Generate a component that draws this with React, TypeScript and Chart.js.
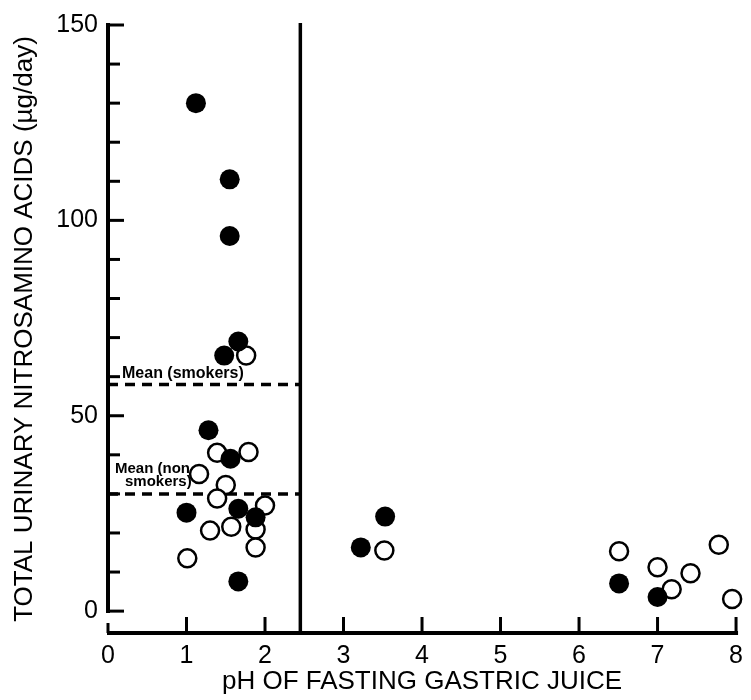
import React, { useEffect, useRef } from 'react';
import { Chart, registerables } from 'chart.js';

Chart.register(...registerables);

// ---- data ----
const X_TICKS = [0, 1, 2, 3, 4, 5, 6, 7, 8];
const Y_MAJOR = [0, 50, 100, 150];
const Y_MINOR = [10, 20, 30, 40, 60, 70, 80, 90, 110, 120, 130, 140];

const smokersX = [1.12, 1.55, 1.55, 1.66, 1.48, 1.28, 1.56, 1.0, 1.66, 1.88, 1.66, 3.53, 3.22, 6.51, 7.0];
const smokersY = [130, 110.5, 96, 69, 65.4, 46.3, 39, 25.2, 26.2, 24, 7.6, 24.2, 16.3, 7.1, 3.6];

const nonSmokersX = [1.76, 1.39, 1.79, 1.16, 1.5, 1.39, 2.0, 1.88, 1.57, 1.3, 1.88, 1.01, 3.52, 6.51, 7.0, 7.42, 7.18, 7.78, 7.95];
const nonSmokersY = [65.4, 40.5, 40.7, 35.1, 32.3, 28.8, 27, 20.9, 21.6, 20.6, 16.3, 13.5, 15.5, 15.3, 11.2, 9.7, 5.6, 17, 3.1];

const MEAN_SMOKERS = 58;
const MEAN_NON_SMOKERS = 30;
const PH_CUTOFF = 2.45;
const X_MIN = 0;
const X_MAX = 8;
const Y_MIN = -5.6;
const Y_MAX = 150;

const X_TITLE = 'pH OF FASTING GASTRIC JUICE';
const Y_TITLE = 'TOTAL URINARY NITROSAMINO ACIDS (\u00b5g/day)';
const LABEL_SMOKERS = ['Mean (smokers)'];
const LABEL_NON_SMOKERS = ['Mean (non', 'smokers)'];

const FONT = '"Liberation Sans", Arial, Helvetica, sans-serif';

const axesPlugin = {
  id: 'paperAxes',
  afterDatasetsDraw(chart: any) {
    const { ctx, chartArea } = chart;
    const xs = chart.scales.x;
    const ys = chart.scales.y;
    ctx.save();
    ctx.strokeStyle = '#000';
    ctx.lineCap = 'butt';
    // y axis line
    const x0 = xs.getPixelForValue(X_MIN);
    ctx.lineWidth = 4;
    ctx.beginPath();
    ctx.moveTo(x0, ys.getPixelForValue(0) + 2);
    ctx.lineTo(x0, ys.getPixelForValue(Y_MAX) - 2);
    ctx.stroke();
    // y ticks
    ctx.lineWidth = 3;
    Y_MAJOR.forEach((v) => {
      const y = ys.getPixelForValue(v);
      ctx.beginPath();
      ctx.moveTo(x0, y);
      ctx.lineTo(x0 + 16, y);
      ctx.stroke();
    });
    Y_MINOR.forEach((v) => {
      const y = ys.getPixelForValue(v);
      ctx.beginPath();
      ctx.moveTo(x0, y);
      ctx.lineTo(x0 + 12, y);
      ctx.stroke();
    });
    // x axis line
    const yb = chartArea.bottom;
    ctx.lineWidth = 4;
    ctx.beginPath();
    ctx.moveTo(x0 - 1, yb);
    ctx.lineTo(xs.getPixelForValue(X_MAX) + 2, yb);
    ctx.stroke();
    ctx.lineWidth = 3;
    X_TICKS.forEach((v) => {
      const x = xs.getPixelForValue(v);
      ctx.beginPath();
      ctx.moveTo(x, yb);
      ctx.lineTo(x, yb - (v === X_MIN ? 10 : 16));
      ctx.stroke();
    });
    // mean labels
    ctx.fillStyle = '#000';
    ctx.font = 'bold 16px ' + FONT;
    ctx.textAlign = 'left';
    ctx.textBaseline = 'alphabetic';
    const ySm = ys.getPixelForValue(MEAN_SMOKERS);
    ctx.fillText(LABEL_SMOKERS[0], x0 + 14, ySm - 6);
    ctx.font = 'bold 15px ' + FONT;
    const yNs = ys.getPixelForValue(MEAN_NON_SMOKERS);
    ctx.fillText(LABEL_NON_SMOKERS[0], x0 + 7, yNs - 21);
    ctx.fillText(LABEL_NON_SMOKERS[1], x0 + 17, yNs - 8);
    ctx.restore();
  },
};

export default function App() {
  const ref = useRef<HTMLCanvasElement | null>(null);

  useEffect(() => {
    const canvas = ref.current;
    if (!canvas) return;
    const chart = new Chart(canvas, {
      type: 'scatter',
      data: {
        datasets: [
          {
            label: 'Smokers',
            data: smokersX.map((x, i) => ({ x, y: smokersY[i] })),
            backgroundColor: '#000',
            borderColor: '#000',
            borderWidth: 0,
            pointRadius: 10,
            clip: false,
          } as any,
          {
            label: 'Non-smokers',
            data: nonSmokersX.map((x, i) => ({ x, y: nonSmokersY[i] })),
            backgroundColor: '#fff',
            borderColor: '#000',
            borderWidth: 2.5,
            pointRadius: 9,
            clip: false,
          } as any,
          {
            type: 'line',
            label: 'Mean (smokers)',
            data: [
              { x: X_MIN, y: MEAN_SMOKERS },
              { x: PH_CUTOFF, y: MEAN_SMOKERS },
            ],
            borderColor: '#000',
            borderWidth: 3.5,
            borderDash: [10, 7],
            pointRadius: 0,
            showLine: true,
          } as any,
          {
            type: 'line',
            label: 'Mean (non smokers)',
            data: [
              { x: X_MIN, y: MEAN_NON_SMOKERS },
              { x: PH_CUTOFF, y: MEAN_NON_SMOKERS },
            ],
            borderColor: '#000',
            borderWidth: 3.5,
            borderDash: [10, 7],
            pointRadius: 0,
            showLine: true,
          } as any,
          {
            type: 'line',
            label: 'pH cut-off',
            data: [
              { x: PH_CUTOFF, y: Y_MIN },
              { x: PH_CUTOFF, y: Y_MAX + 0.5 },
            ],
            borderColor: '#000',
            borderWidth: 3.5,
            pointRadius: 0,
            showLine: true,
            clip: false,
          } as any,
        ],
      },
      options: {
        responsive: false,
        animation: false,
        devicePixelRatio: 1,
        layout: { padding: { top: 22, right: 8, left: 0, bottom: 0 } },
        plugins: {
          legend: { display: false },
          tooltip: { enabled: false },
        },
        scales: {
          x: {
            type: 'linear',
            min: X_MIN,
            max: X_MAX,
            afterBuildTicks: (scale: any) => {
              scale.ticks = X_TICKS.map((v) => ({ value: v }));
            },
            afterFit: (scale: any) => {
              scale.height = 67;
            },
            grid: { display: false, drawTicks: false },
            border: { display: false },
            ticks: {
              color: '#000',
              font: { family: FONT, size: 25 },
              padding: 8,
              maxRotation: 0,
            },
            title: {
              display: true,
              text: X_TITLE,
              color: '#000',
              font: { family: FONT, size: 26 },
              padding: { top: 0, bottom: 3 },
            },
          },
          y: {
            type: 'linear',
            min: Y_MIN,
            max: Y_MAX,
            afterBuildTicks: (scale: any) => {
              scale.ticks = Y_MAJOR.map((v) => ({ value: v }));
            },
            afterFit: (scale: any) => {
              scale.width = 108;
            },
            grid: { display: false, drawTicks: false },
            border: { display: false },
            ticks: {
              color: '#000',
              font: { family: FONT, size: 25 },
              padding: 10,
            },
            title: {
              display: true,
              text: Y_TITLE,
              color: '#000',
              font: { family: FONT, size: 26 },
              padding: { top: 9, bottom: 0 },
            },
          },
        },
      },
      plugins: [axesPlugin],
    } as any);
    return () => chart.destroy();
  }, []);

  return (
    <div style={{ position: 'absolute', left: 0, top: 0, width: 751, height: 700, background: '#fff' }}>
      <canvas ref={ref} width={751} height={700} style={{ display: 'block' }} />
    </div>
  );
}
